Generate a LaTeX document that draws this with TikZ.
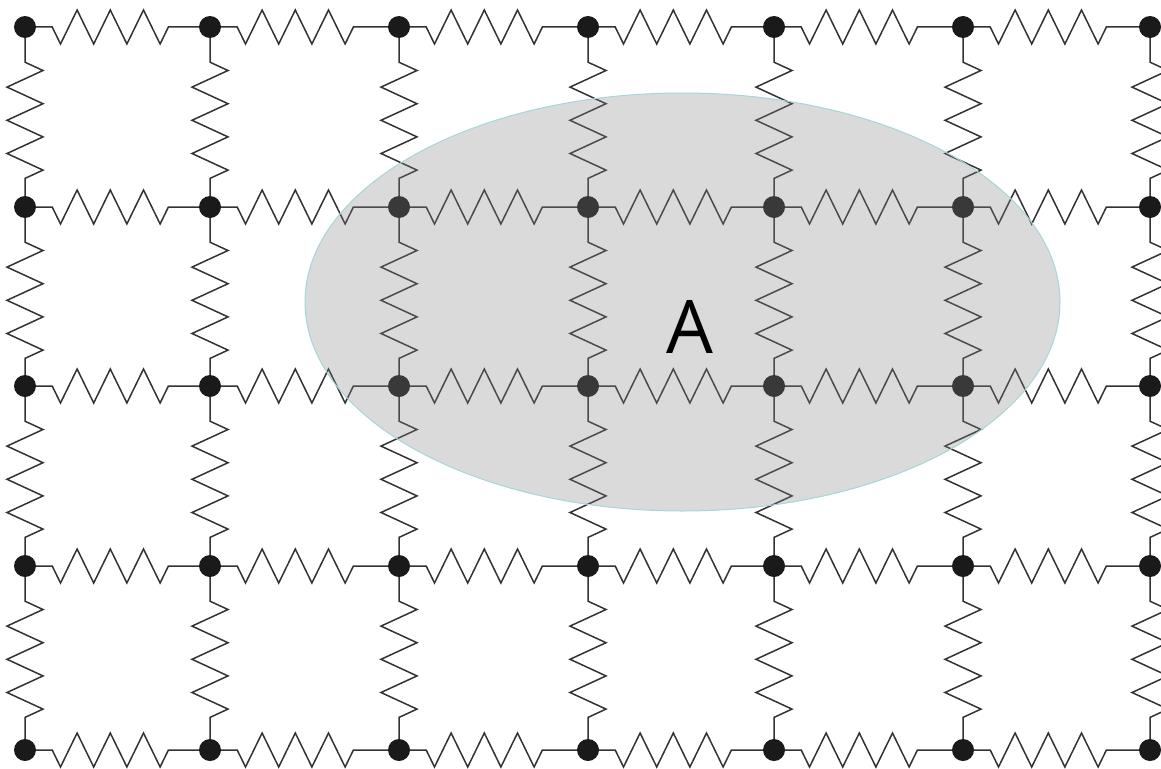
\documentclass[tikz,border=0pt]{standalone}
\usepackage{fontspec}
\setsansfont{Open Sans}
\usetikzlibrary{decorations.pathmorphing}
\definecolor{springc}{HTML}{333333}
\definecolor{dotc}{HTML}{1A1A1A}
\definecolor{ellfill}{HTML}{838383}
\definecolor{ellline}{HTML}{A6D6DA}
\begin{document}
\begin{tikzpicture}[x=1pt,y=-1pt,
  dot/.style={circle,fill=dotc,inner sep=0pt,minimum size=22pt},
  spring/.style={draw=springc,line width=1.5pt,decorate},
  hspring/.style={spring,decoration={zigzag,segment length=33.2pt,amplitude=-17pt,pre length=16pt,post length=24pt}},
  vspring/.style={spring,decoration={zigzag,segment length=33.2pt,amplitude=18pt,pre length=24pt,post length=13pt}},
  region/.style={fill=ellfill,fill opacity=0.3,draw=ellline,line width=1pt}]
\useasboundingbox (0,0) rectangle (1161,768);
\clip (0,0) rectangle (1161,768);
% lattice points
\foreach \x [count=\i] in {25,210,399,588,774,963,1150}
  \foreach \y [count=\j] in {27,207,386,566,750}
    \node[dot] (n\i-\j) at (\x,\y) {};
% horizontal springs
\foreach \i in {1,...,6}
  \foreach \j in {1,...,5}{
    \pgfmathtruncatemacro\k{\i+1}
    \draw[hspring] (n\i-\j) -- (n\k-\j);
  }
% vertical springs
\foreach \i in {1,...,7}
  \foreach \j in {1,...,4}{
    \pgfmathtruncatemacro\k{\j+1}
    \draw[vspring] (n\i-\j) -- (n\i-\k);
  }
% shaded region
\path[region] (682.5,302) ellipse [x radius=377.5pt, y radius=209pt];
\node (A) at (690,327) {\sffamily\fontsize{74}{74}\selectfont A};
\end{tikzpicture}
\end{document}
